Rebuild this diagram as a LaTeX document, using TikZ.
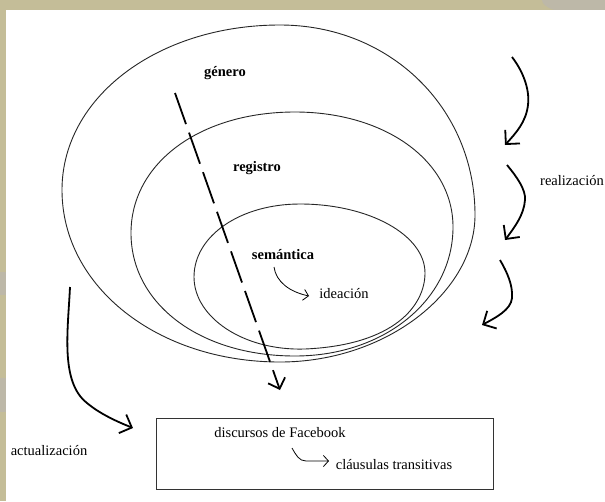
\documentclass[tikz,border=0pt]{standalone}
\usepackage{fontspec}
\setmainfont{Liberation Serif}
\usetikzlibrary{arrows.meta}
\definecolor{frame}{HTML}{C4BD98}
\definecolor{patch}{HTML}{BDB8A8}
\tikzset{
  lbl/.style={inner sep=0pt, font=\fontsize{14.5}{16}\selectfont},
  blbl/.style={lbl, font=\fontsize{14.5}{16}\selectfont\bfseries},
  ring/.style={line width=0.9pt, black!85},
  bigarrow/.style={line width=1.8pt, -{Straight Barb[length=10pt,width=20pt,line width=1.8pt]}},
  smallarrow/.style={line width=0.8pt, -{Straight Barb[length=5pt,width=11pt,line width=0.8pt]}},
  dasharrow/.style={line width=1.8pt, dash pattern=on 33pt off 9pt, -{Straight Barb[length=9pt,width=18pt,line width=1.8pt]}},
  boxstyle/.style={draw=black!80, line width=1pt}
}
\begin{document}
\begin{tikzpicture}[x=1pt,y=-1pt]
\useasboundingbox (0,0) rectangle (605,501);
% frame
\fill[frame] (0,0) rectangle (605,501);
\begin{scope}
  \clip (0,0) rectangle (605,10);
  \fill[patch] (582,0) ellipse (40 and 14);
\end{scope}
\fill[patch] (0,272) rectangle (6,295);
\fill[patch] (0,378) rectangle (6,412);
\fill[white] (6,10) rectangle (605,501);

% rings (quarter-ellipse Bezier segments)
% outer: L(62,190) T(280,25) R(475,215) B(280,362)
\draw[ring] (62,190) .. controls (62,97) and (158,25) .. (280,25)
  .. controls (390,25) and (475,108) .. (475,215)
  .. controls (475,292) and (386,362) .. (280,362)
  .. controls (158,362) and (62,287) .. cycle;
% middle: L(131,233) T(295,112) R(453,227) B(295,356)
\draw[ring] (131,233) .. controls (131,163) and (200,112) .. (295,112)
  .. controls (384,112) and (453,160) .. (453,227)
  .. controls (453,300) and (384,356) .. (295,356)
  .. controls (200,356) and (131,304) .. cycle;
% inner: L(194,277) T(300,204) R(425,273) B(305,349)
\draw[ring] (194,277) .. controls (194,236) and (240,204) .. (300,204)
  .. controls (369,204) and (425,235) .. (425,273)
  .. controls (425,305) and (395,345) .. (305,349)
  .. controls (243,351) and (194,317) .. cycle;

% labels
\node[blbl] (genero) at (225,73) {género};
\node[blbl] (registro) at (257,168) {registro};
\node[blbl] (semantica) at (283,255) {semántica};
\node[lbl] (ideacion) at (344,294) {ideación};
\node[lbl] (realizacion) at (572,181) {realización};
\node[lbl] (actualizacion) at (49,451) {actualización};

% box
\node[boxstyle, minimum width=337pt, minimum height=71pt, inner sep=0pt] (box) at (324.5,453.5) {};
\node[lbl] (discursos) at (280,433) {discursos de Facebook};
\node[lbl] (clausulas) at (394,465) {cláusulas transitivas};

% coordinates for arrow ends
\coordinate (d0) at (175,93);
\coordinate (d1) at (280,390);
\coordinate (r1s) at (512,57);
\coordinate (r1e) at (505,145);
\coordinate (r2s) at (507,165);
\coordinate (r2e) at (505,240);
\coordinate (r3s) at (500,260);
\coordinate (r3e) at (482,325);
\coordinate (as) at (70,287);
\coordinate (ae) at (133,428);
\coordinate (ss) at (274,267);
\coordinate (se) at (309,296);
\coordinate (cs) at (292,448);
\coordinate (ce) at (329,461);

% dashed arrow
\draw[dasharrow] (d0) -- (d1);

% realizacion arrows
\draw[bigarrow] (r1s) .. controls (522,70) and (530,88) .. (528,105)
   .. controls (526,122) and (516,133) .. (r1e);
\draw[bigarrow] (r2s) .. controls (517,177) and (526,190) .. (525,200)
   .. controls (524,215) and (514,228) .. (r2e);
\draw[bigarrow] (r3s) .. controls (507,272) and (513,285) .. (512,298)
   .. controls (511,310) and (495,318) .. (r3e);

% actualizacion arrow
\draw[bigarrow] (as) .. controls (68,330) and (60,382) .. (87,403)
   .. controls (100,414) and (118,422) .. (ae);

% small arrows
\draw[smallarrow] (ss) .. controls (276,282) and (290,292) .. (se);
\draw[smallarrow] (cs) .. controls (296,455) and (299,461) .. (306,461) -- (ce);
\end{tikzpicture}
\end{document}
